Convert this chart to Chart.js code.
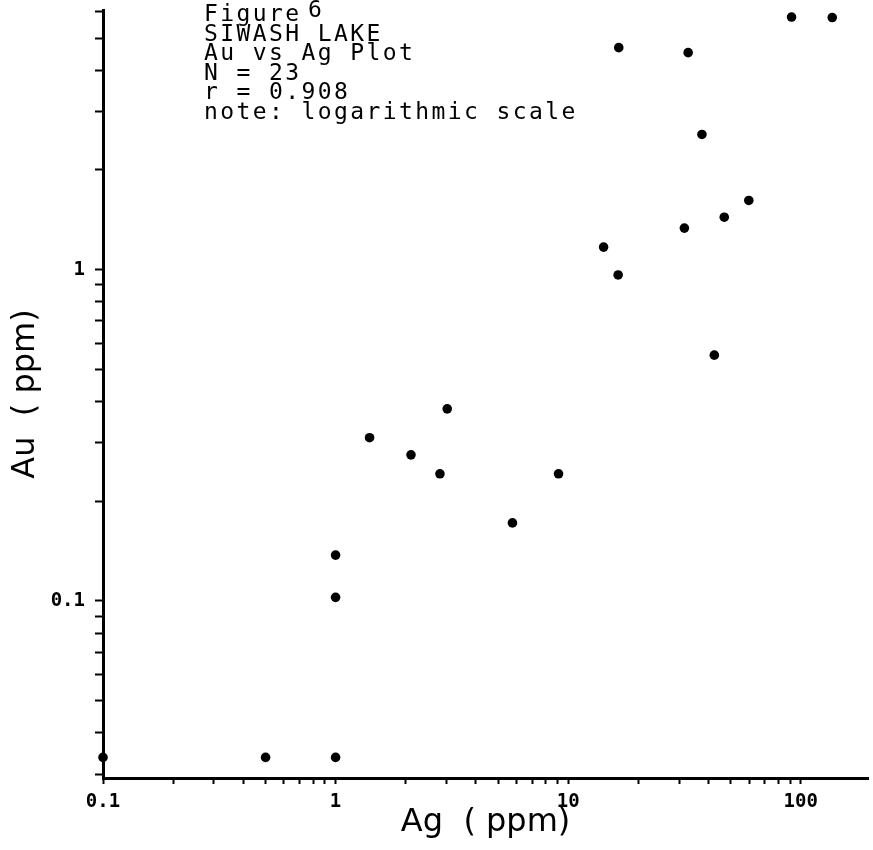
<!DOCTYPE html>
<html>
<head>
<meta charset="utf-8">
<script src="https://cdn.jsdelivr.net/npm/chart.js@4.4.1/dist/chart.umd.min.js"></script>
<style>
  html, body { margin: 0; padding: 0; background: #ffffff; }
  #wrap { width: 873px; height: 850px; position: relative; }
</style>
</head>
<body>
<div id="wrap"><canvas id="c" width="873" height="850"></canvas></div>
<script>
// ---- data ----
const agValues = [0.1, 0.5, 1.0, 1.0, 1.0, 1.40, 2.11, 2.81, 3.02, 5.76, 9.09, 14.2, 16.4, 16.5, 32.8, 37.6, 31.6, 46.9, 59.8, 91.3, 136.6, 42.5];
const auValues = [0.0337, 0.0337, 0.0337, 0.1025, 0.1375, 0.311, 0.276, 0.242, 0.380, 0.172, 0.242, 1.17, 0.964, 4.68, 4.52, 2.56, 1.335, 1.44, 1.618, 5.79, 5.77, 0.552];

const xTickValues = [0.1,0.2,0.3,0.4,0.5,0.6,0.7,0.8,0.9,1,2,3,4,5,6,7,8,9,10,20,30,40,50,60,70,80,90,100];
const xLabelValues = [0.1, 1, 10, 100];
const xLabelTexts = ['0.1', '1', '10', '100'];

const yTickValues = [0.03,0.04,0.05,0.06,0.07,0.08,0.09,0.1,0.2,0.3,0.4,0.5,0.6,0.7,0.8,0.9,1,2,3,4,5,6];
const yLabelValues = [0.1, 1];
const yLabelTexts = ['0.1', '1'];

const noteTitle = 'Figure';
const noteNumber = '6';
const noteLines = ['SIWASH LAKE', 'Au vs Ag Plot', 'N = 23', 'r = 0.908', 'note: logarithmic scale'];

const xTitle = 'Ag  ( ppm)';
const yTitle = 'Au  ( ppm)';

// ---- build ----
const points = agValues.map((x, i) => ({ x: x, y: auValues[i] }));

function labelFor(v, vals, texts) {
  for (let i = 0; i < vals.length; i++) {
    if (Math.abs(Math.log10(v) - Math.log10(vals[i])) < 1e-6) return texts[i];
  }
  return '';
}

const notePlugin = {
  id: 'notePlugin',
  afterDraw(chart) {
    const ctx = chart.ctx;
    ctx.save();
    ctx.fillStyle = '#000';
    ctx.font = '23px "DejaVu Sans Mono", "Liberation Mono", monospace';
    ctx.textBaseline = 'alphabetic';
    ctx.textAlign = 'left';
    try { ctx.letterSpacing = '2.4px'; } catch (e) {}
    const x0 = 204;
    const base0 = 21;
    const step = 19.5;
    ctx.fillText(noteTitle, x0, base0);
    ctx.fillText(noteNumber, x0 + 104, base0 - 4);
    noteLines.forEach((t, i) => ctx.fillText(t, x0, base0 + step * (i + 1)));
    ctx.restore();
  }
};

const tickFont = { family: '"DejaVu Sans Mono", "Liberation Mono", monospace', size: 19, weight: 'bold' };
const titleFont = { family: '"DejaVu Sans", sans-serif', size: 32, weight: 'normal' };

new Chart(document.getElementById('c'), {
  type: 'scatter',
  data: {
    datasets: [{
      data: points,
      backgroundColor: '#000',
      borderColor: '#000',
      borderWidth: 0,
      pointRadius: 4.8,
      pointHoverRadius: 4.8,
      clip: false
    }]
  },
  options: {
    responsive: false,
    animation: false,
    devicePixelRatio: 1,
    layout: { padding: { top: 10, right: 0, bottom: 0, left: 0 } },
    plugins: { legend: { display: false }, tooltip: { enabled: false }, title: { display: false } },
    scales: {
      x: {
        type: 'logarithmic',
        position: 'bottom',
        min: 0.1,
        max: 195,
        border: { display: true, color: '#000', width: 3 },
        grid: { display: true, drawOnChartArea: false, drawTicks: true, tickLength: 6, tickWidth: 2, tickColor: '#000', color: '#000' },
        ticks: {
          autoSkip: false, maxRotation: 0, minRotation: 0, color: '#000', font: tickFont, padding: 7,
          callback: (v) => labelFor(v, xLabelValues, xLabelTexts)
        },
        title: { display: true, text: xTitle, color: '#000', font: titleFont, padding: { top: 0, bottom: 8 } },
        afterBuildTicks: (s) => { s.ticks = xTickValues.map(v => ({ value: v })); },
        afterFit: (s) => { s.height = 72; s.paddingLeft = 0; s.paddingRight = 0; }
      },
      y: {
        type: 'logarithmic',
        position: 'left',
        min: 0.0292,
        max: 6.08,
        border: { display: true, color: '#000', width: 3 },
        grid: { display: true, drawOnChartArea: false, drawTicks: true, tickLength: 8, tickWidth: 2, tickColor: '#000', color: '#000' },
        ticks: {
          autoSkip: false, color: '#000', font: tickFont, padding: 10,
          callback: (v) => labelFor(v, yLabelValues, yLabelTexts)
        },
        title: { display: true, text: yTitle, color: '#000', font: titleFont, padding: { top: 6, bottom: 0 } },
        afterBuildTicks: (s) => { s.ticks = yTickValues.map(v => ({ value: v })); },
        afterFit: (s) => { s.width = 103; s.paddingTop = 0; s.paddingBottom = 0; }
      }
    }
  },
  plugins: [notePlugin]
});
</script>
</body>
</html>
